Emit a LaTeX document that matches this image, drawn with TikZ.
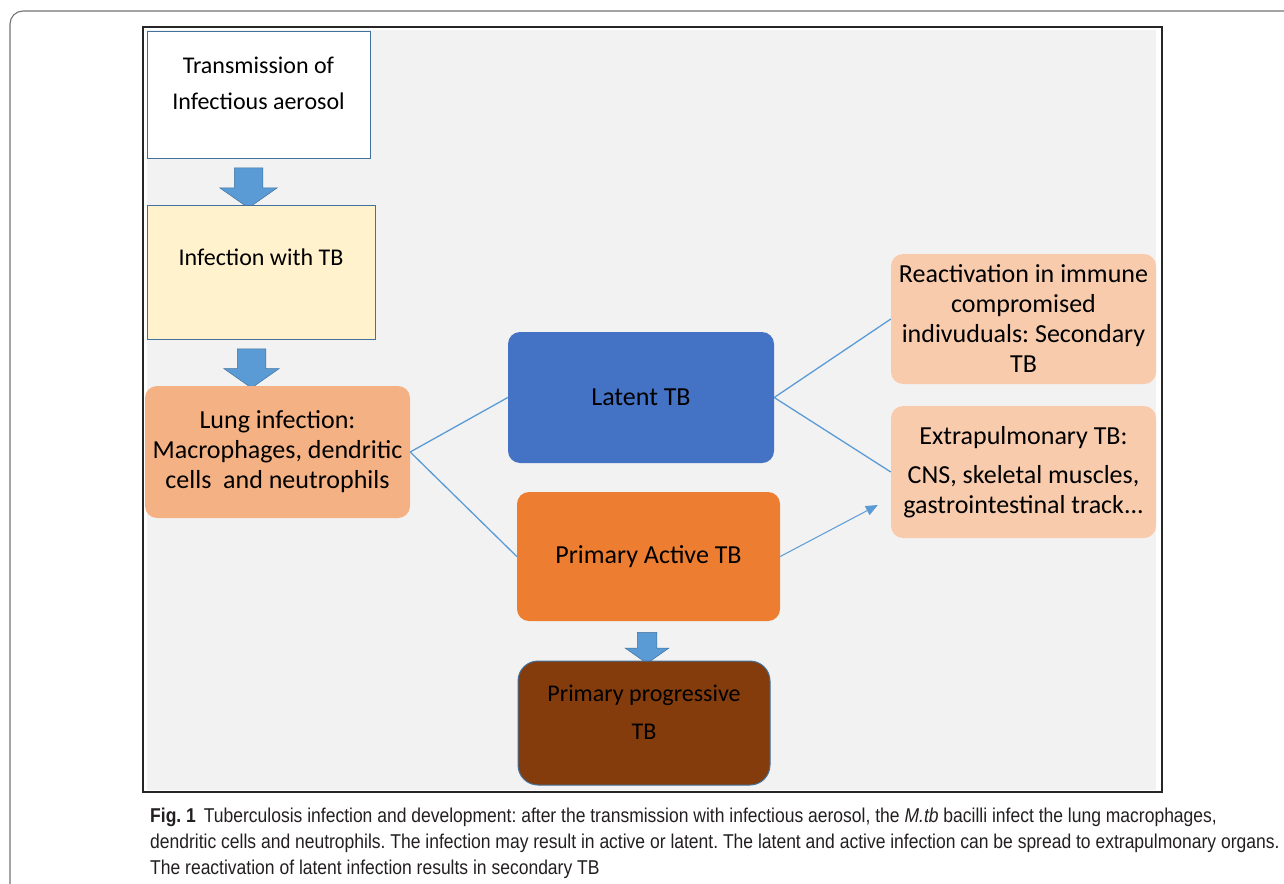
\documentclass[tikz,border=0pt]{standalone}
\usepackage{fontspec}
\setmainfont{Carlito}
\newfontfamily\capfont[FakeStretch=0.875]{Liberation Sans}
\usetikzlibrary{shapes.arrows, arrows.meta}

\definecolor{panel}{HTML}{F2F2F2}
\definecolor{edgeblue}{HTML}{41719C}
\definecolor{arrowblue}{HTML}{5B9BD5}
\definecolor{infectfill}{HTML}{FFF2CC}
\definecolor{lungfill}{HTML}{F4B183}
\definecolor{latentfill}{HTML}{4472C4}
\definecolor{activefill}{HTML}{ED7D31}
\definecolor{progfill}{HTML}{843C0C}
\definecolor{spreadfill}{HTML}{F8CBAD}
\definecolor{captext}{HTML}{231F20}

\begin{document}
\frenchspacing
\begin{tikzpicture}[
			x=1pt, y=-1pt,
			sqbox/.style={rectangle, draw=edgeblue, line width=1pt, inner sep=0pt},
			rbox/.style={rectangle, rounded corners=12pt, inner sep=0pt, align=center, font=\fontsize{26}{30}\selectfont},
			txt/.style={inner sep=0pt, align=center, font=\fontsize{24}{28}\selectfont},
			dnarrow/.style={single arrow, shape border rotate=270, fill=arrowblue, draw=edgeblue, line width=0.5pt, single arrow tip angle=110, single arrow head indent=0pt},
			link/.style={draw=arrowblue, line width=1.3pt}
			]
			\useasboundingbox (0,0) rectangle (1284,883);
			\draw[black!55, line width=1.1pt, rounded corners=13pt] (10,900) -- (10,11) -- (1300,11);
			\fill[panel] (147,30) rectangle (1156,790);
			\draw[black!85, line width=1.6pt] (143,27) rectangle (1162,792);

			\node[sqbox, fill=white, minimum width=223pt, minimum height=126pt] (trans) at (258.5,95) {};
			\node[txt] (transtext) at ([yshift=12pt]trans.center) {Transmission of\\[8pt]Infectious aerosol};
			\node[dnarrow, inner sep=14pt, minimum height=40pt, single arrow head extend=14.5pt] (arrA) at (248.5,183) {};
			\node[sqbox, fill=infectfill, minimum width=228pt, minimum height=134pt] (infect) at (261,272) {};
			\node[txt] (infecttext) at ([yshift=15pt]infect.center) {Infection with TB};
			\node[dnarrow, inner sep=14pt, minimum height=39pt, single arrow head extend=13.5pt] (arrB) at (251.5,363.5) {};
			\node[rbox, fill=lungfill, minimum width=265pt, minimum height=132pt] (lung) at (277.5,452) {Lung infection:\\Macrophages, dendritic\\cells\ \ and neutrophils};

			\node[rbox, fill=latentfill, minimum width=266pt, minimum height=131pt] (latent) at (641,397.5) {Latent TB};
			\node[rbox, fill=activefill, minimum width=263pt, minimum height=129pt] (active) at (648.5,556.5) {Primary Active TB};
			\node[dnarrow, inner sep=9.5pt, minimum height=31pt, single arrow head extend=12pt] (arrC) at (647,644.5) {};
			\node[sqbox, rounded corners=20pt, fill=progfill, minimum width=252pt, minimum height=124pt] (prog) at (644,723) {};
			\node[txt] (progtext) at ([yshift=11pt]prog.center) {Primary progressive\\[10pt]TB};

			\node[rbox, fill=spreadfill, minimum width=265pt, minimum height=130pt] (reac) at (1023.5,319) {Reactivation in immune\\compromised\\indivuduals: Secondary\\TB};
			\node[rbox, fill=spreadfill, minimum width=265pt, minimum height=132pt] (extra) at (1023.5,472) {Extrapulmonary TB:\\[9pt]CNS, skeletal muscles,\\gastrointestinal track...};
			\coordinate (tip) at ([xshift=-13pt,yshift=-33pt]extra.west);

			\draw[link] (lung.east) -- (latent.west);
			\draw[link] (lung.east) -- (active.west);
			\draw[link] (latent.east) -- (reac.west);
			\draw[link] (latent.east) -- (extra.west);
			\draw[link, line width=1pt, -{Triangle[length=12pt, width=10pt]}] (active.east) -- (tip);

			\node[anchor=north west, inner sep=0pt, align=left, text=captext, font=\capfont\fontsize{20}{26}\selectfont] (caption) at (150,808) {\textbf{Fig. 1}\hspace{8pt}Tuberculosis infection and development: after the transmission with infectious aerosol, the \textit{M.tb} bacilli infect the lung macrophages,\\dendritic cells and neutrophils. The infection may result in active or latent. The latent and active infection can be spread to extrapulmonary organs.\\The reactivation of latent infection results in secondary TB};
		\end{tikzpicture}
\end{document}
